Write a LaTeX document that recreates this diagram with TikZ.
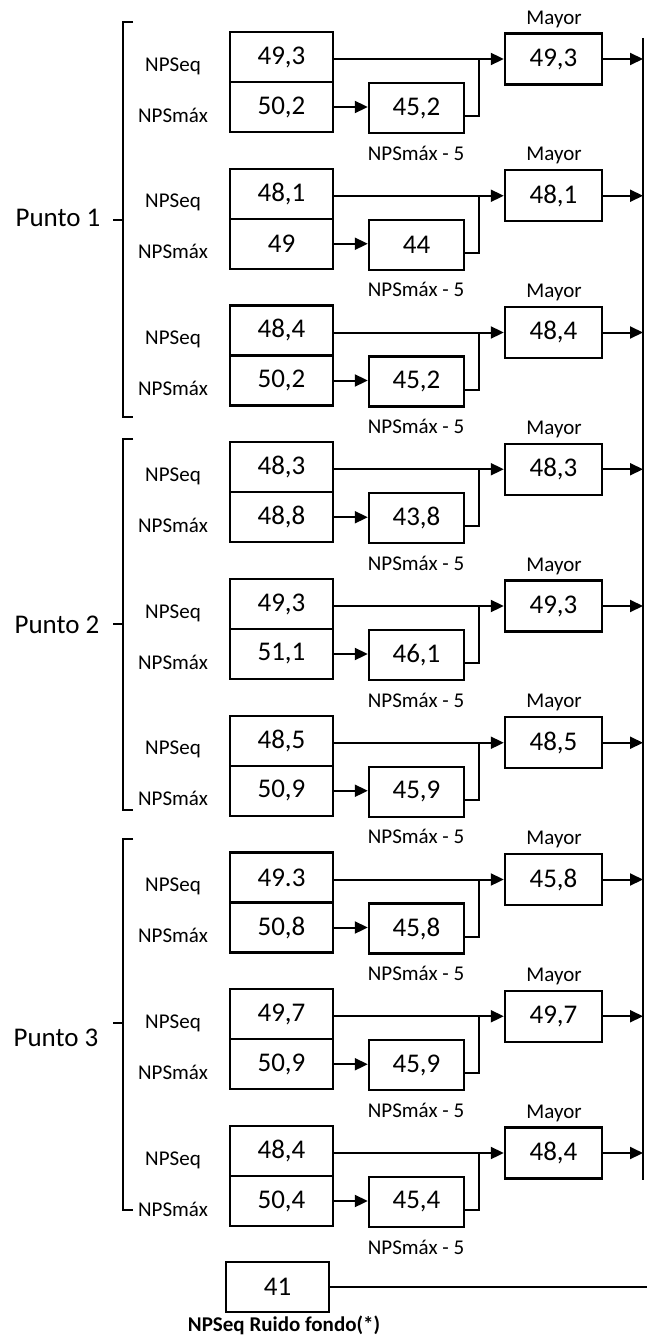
\documentclass[tikz,border=0pt]{standalone}
\usepackage{fontspec}
\setmainfont{Carlito}
\usetikzlibrary{arrows.meta}
\newcommand\numsize{\fontsize{27}{30}\selectfont}
\newcommand\labsize{\fontsize{21}{24}\selectfont}
\tikzset{
  val/.style={draw, line width=2.4pt, minimum width=103pt, minimum height=50pt, inner sep=0pt, font=\numsize},
  smallval/.style={val, minimum width=95pt},
  mayval/.style={val, minimum width=97pt, minimum height=51pt},
  lab/.style={font=\labsize, inner sep=0pt},
  arr/.style={line width=2pt, -{Triangle[length=13pt,width=12pt]}},
  wire/.style={line width=2pt},
  brk/.style={line width=2pt},
}

\begin{document}
\begin{tikzpicture}[x=1pt,y=-1pt]
\useasboundingbox (0,0) rectangle (647,1337);
% barra de la derecha
\coordinate (bt) at (643,38);
\coordinate (bb) at (643,1180);
\draw[line width=2.4pt] (bt) -- (bb);
% bloques NPSeq / NPSmax
\foreach \i/\eq/\mx/\rs/\my in {1/{49,3}/{50,2}/{45,2}/{49,3},
    2/{48,1}/{49}/{44}/{48,1}, 3/{48,4}/{50,2}/{45,2}/{48,4},
    4/{48,3}/{48,8}/{43,8}/{48,3}, 5/{49,3}/{51,1}/{46,1}/{49,3},
    6/{48,5}/{50,9}/{45,9}/{48,5}, 7/{49.3}/{50,8}/{45,8}/{45,8},
    8/{49,7}/{50,9}/{45,9}/{49,7}, 9/{48,4}/{50,4}/{45,4}/{48,4}}{
  \pgfmathsetmacro\yy{57+(\i-1)*136.75}
  \node[val] (e\i) at (281.5,\yy) {\eq};
  \node[val] (m\i) at (281.5,\yy+50) {\mx};
  \node[smallval] (r\i) at (416.5,\yy+51) {\rs};
  \node[mayval] (y\i) at (553.5,\yy+2) {\my};
  \node[lab] (le\i) at (173,\yy+9) {NPSeq};
  \node[lab] (lm\i) at (173,\yy+58) {NPSmáx};
  \node[lab] (ly\i) at (554,\yy-38) {Mayor};
  \node[lab] (lr\i) at (416,\yy+96) {NPSmáx - 5};
  \coordinate (j\i) at (479,\yy+2);
  \draw[arr] (e\i.east |- y\i.west) -- (y\i.west);
  \draw[arr] (m\i.east) -- (m\i.east -| r\i.west);
  \draw[wire] ([yshift=-8pt]r\i.east) -| (j\i);
  \draw[arr] (y\i.east) -- (y\i.east -| bt);
}
% puntos
\node[font=\numsize] (p1) at (58,218) {Punto 1};
\draw[brk] (133,22) -- (123,22) -- (123,417) -- (133,417);
\draw[brk] (113,220) -- (123,220);
\node[font=\numsize] (p2) at (57,625) {Punto 2};
\draw[brk] (133,439) -- (123,439) -- (123,810) -- (133,810);
\draw[brk] (113,624) -- (123,624);
\node[font=\numsize] (p3) at (56,1038) {Punto 3};
\draw[brk] (133,839) -- (123,839) -- (123,1210) -- (133,1210);
\draw[brk] (113,1023) -- (123,1023);
% ruido de fondo
\node[val] (f) at (277.5,1287) {41};
\coordinate (fe) at (647,1287);
\draw[line width=2.4pt] (f.east) -- (fe);
\node[lab,font=\labsize\bfseries] (lf) at (284,1325) {NPSeq Ruido fondo(*)};
\end{tikzpicture}
\end{document}
